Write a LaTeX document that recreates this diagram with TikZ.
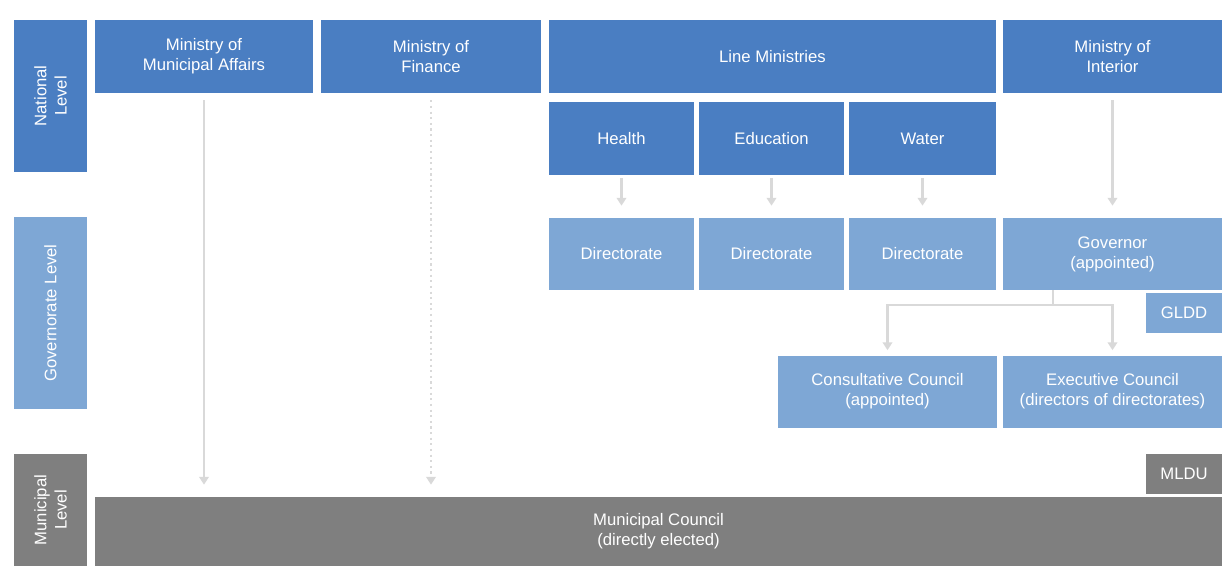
\documentclass[tikz,border=0pt]{standalone}
\usepackage{fontspec}
\setmainfont{Liberation Sans}
\usepackage{tikz}
\usetikzlibrary{arrows.meta}
\usepackage{xcolor}
\definecolor{natblue}{HTML}{4A7EC2}
\definecolor{govblue}{HTML}{7EA7D5}
\definecolor{mungray}{HTML}{7F7F7F}
\definecolor{linkgray}{HTML}{D9D9D9}

\begin{document}
\begin{tikzpicture}[x=0.02cm,y=-0.02cm]
  \tikzset{box/.style = {rectangle,inner sep=0pt,text=white,align=center,font=\fontsize{9.5}{11.5}\selectfont}}
  \tikzset{natbox/.style = {box,fill=natblue}}
  \tikzset{govbox/.style = {box,fill=govblue}}
  \tikzset{munbox/.style = {box,fill=mungray}}
  \tikzset{lvlbox/.style = {box,rotate=90,minimum height=1.46cm}}
  \tikzset{link/.style = {draw=linkgray,line width=1.2pt,-{Triangle[width=5.5pt,length=4.5pt]}}}

  \useasboundingbox (0,0) rectangle (1225,566);

	\node[natbox,lvlbox,minimum width=3.04cm] (lvlnat) at (50.5,96) {National\\Level};
	\node[govbox,lvlbox,minimum width=3.84cm] (lvlgov) at (50.5,313) {Governorate Level};
	\node[munbox,lvlbox,minimum width=2.24cm] (lvlmun) at (50.5,510) {Municipal\\Level};

	\node[natbox,minimum width=4.36cm,minimum height=1.46cm] (mma) at (204,56.5) {Ministry of\\Municipal Affairs};
	\node[natbox,minimum width=4.40cm,minimum height=1.46cm] (mof) at (431,56.5) {Ministry of\\Finance};
	\node[natbox,minimum width=8.94cm,minimum height=1.46cm] (line) at (772.5,56.5) {Line Ministries};
	\node[natbox,minimum width=4.38cm,minimum height=1.46cm] (moi) at (1112.5,56.5) {Ministry of\\Interior};

	\node[natbox,minimum width=2.90cm,minimum height=1.46cm] (health) at (621.5,138.5) {Health};
	\node[natbox,minimum width=2.90cm,minimum height=1.46cm] (edu) at (771.5,138.5) {Education};
	\node[natbox,minimum width=2.94cm,minimum height=1.46cm] (water) at (922.5,138.5) {Water};

	\node[govbox,minimum width=2.90cm,minimum height=1.44cm] (dirh) at (621.5,254) {Directorate};
	\node[govbox,minimum width=2.90cm,minimum height=1.44cm] (dire) at (771.5,254) {Directorate};
	\node[govbox,minimum width=2.94cm,minimum height=1.44cm] (dirw) at (922.5,254) {Directorate};
	\node[govbox,minimum width=4.38cm,minimum height=1.44cm] (gov) at (1112.5,254) {Governor\\(appointed)};
	\node[govbox,minimum width=1.52cm,minimum height=0.80cm] (gldd) at (1184,313) {GLDD};

	\node[govbox,minimum width=4.38cm,minimum height=1.44cm] (cons) at (887.5,391.5) {Consultative Council\\(appointed)};
	\node[govbox,minimum width=4.38cm,minimum height=1.44cm] (exec) at (1112.5,391.5) {Executive Council\\(directors of directorates)};

	\node[munbox,minimum width=1.52cm,minimum height=0.80cm] (mldu) at (1184,474) {MLDU};
	\node[munbox,minimum width=22.54cm,minimum height=1.38cm] (council) at (658.5,531.5) {Municipal Council\\(directly elected)};

	\coordinate (split) at (1053,305);

    \foreach \from/\to in {health/dirh, edu/dire, water/dirw}
    \draw[link,shorten <=0.06cm,shorten >=0.24cm](\from) -- (\to);

    \draw[link,shorten <=0.14cm,shorten >=0.24cm](moi) -- (gov);
    \draw[link,shorten <=0.14cm,shorten >=0.24cm](mma.south) -- (mma.south |- council.north);
    \draw[link,dotted,shorten <=0.14cm,shorten >=0.24cm](mof.south) -- (mof.south |- council.north);

    \draw[linkgray,line width=1.2pt] (split |- gov.south) -- (split);
    \foreach \to in {cons, exec}
    \draw[link,shorten >=0.1cm] (split) -| (\to);

\end{tikzpicture}
\end{document}
